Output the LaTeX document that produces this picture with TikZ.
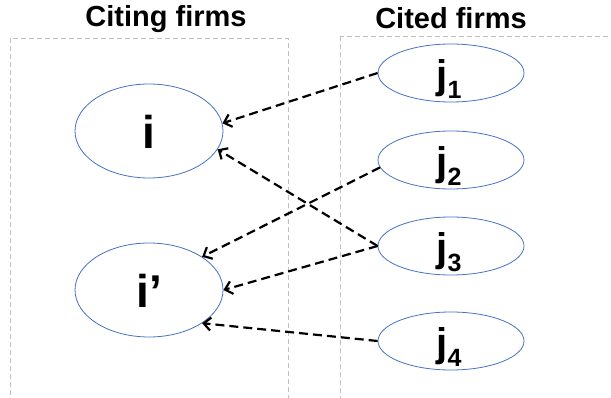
\documentclass[tikz,border=0pt]{standalone}
\usepackage{fontspec}
\setmainfont{Liberation Sans}
\usetikzlibrary{arrows.meta,shapes.geometric}
\definecolor{ellblue}{HTML}{4472C4}
\definecolor{boxgrey}{HTML}{BFBFBF}
\begin{document}
\begin{tikzpicture}[x=1pt,y=-1pt,
  groupbox/.style={draw=boxgrey, dash pattern=on 5pt off 3pt, line width=0.8pt},
  citing/.style={ellipse, draw=ellblue, line width=0.8pt, minimum width=148pt, minimum height=94pt, inner sep=0pt},
  citedfirm/.style={ellipse, draw=ellblue, line width=0.8pt, minimum width=146pt, minimum height=58pt, inner sep=0pt},
  citearrow/.style={draw=black, line width=2.2pt, dash pattern=on 9pt off 5pt, -{Straight Barb[length=7pt,width=13pt]}},
  ilbl/.style={font=\bfseries\fontsize{46}{46}\selectfont, inner sep=0pt, anchor=base},
  jlbl/.style={font=\bfseries\fontsize{40}{40}\selectfont, inner sep=0pt, anchor=base},
  title/.style={font=\bfseries\fontsize{29}{29}\selectfont, inner sep=0pt, anchor=base}
]
\useasboundingbox (0,0) rectangle (611,398);
\clip (0,0) rectangle (611,398);

% group boxes
\draw[groupbox] (10,38) rectangle (288,420);
\draw[groupbox] (340,36) rectangle (630,420);

% titles
\node[title] (tciting) at (166,27) {Citing firms};
\node[title] (tcited) at (451,29) {Cited firms};

% citing firms
\node[citing] (i) at (149,131) {};
\node[citing] (ip) at (149,290) {};
\node[ilbl] (it) at (149,149) {i};
\node[ilbl] (ipt) at (149,308) {i’};

% cited firms
\node[citedfirm] (j1) at (451,73) {};
\node[citedfirm] (j2) at (451,160) {};
\node[citedfirm] (j3) at (451,246) {};
\node[citedfirm] (j4) at (451,341) {};
\node[jlbl] (j1t) at (449,88.6) {j\raisebox{-10pt}{\fontsize{25}{25}\selectfont 1}};
\node[jlbl] (j2t) at (449,175.6) {j\raisebox{-10pt}{\fontsize{25}{25}\selectfont 2}};
\node[jlbl] (j3t) at (449,261.6) {j\raisebox{-10pt}{\fontsize{25}{25}\selectfont 3}};
\node[jlbl] (j4t) at (449,356.6) {j\raisebox{-10pt}{\fontsize{25}{25}\selectfont 4}};

% citations
\draw[citearrow] (j1.west) -- (i.6);
\draw[citearrow] (j3.west) -- (i.-15);
\draw[citearrow] (j2.186) -- (ip.32);
\draw[citearrow] (j3.west) -- (ip.east);
\draw[citearrow] (j4.west) -- (ip.-32);
\end{tikzpicture}
\end{document}
